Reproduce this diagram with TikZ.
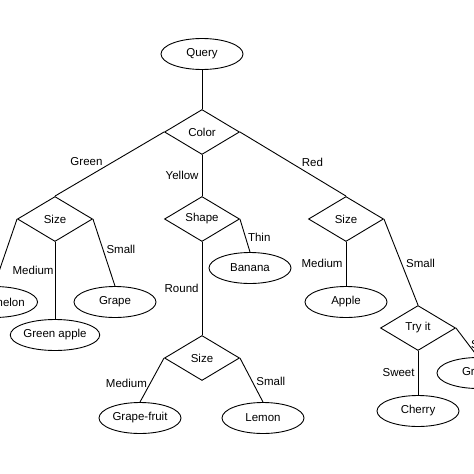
\documentclass[tikz,border=0pt]{standalone}
\usepackage{fontspec}
\setmainfont{Liberation Sans}
\usetikzlibrary{shapes.geometric}

\begin{document}
\begin{tikzpicture}[x=1pt, y=-1pt, line width=0.9pt,
    every node/.style={font=\fontsize{11.5}{13}\selectfont},
    leaf/.style={draw, ellipse, minimum width=82pt, minimum height=31pt, inner sep=0pt},
    test/.style={draw, diamond, minimum width=75pt, minimum height=45pt, inner sep=0pt},
    lbl/.style={inner sep=1pt}]
\useasboundingbox (0,0) rectangle (474,474);
\coordinate (pQuery) at (202, 54);
\coordinate (pColor) at (202, 132);
\coordinate (pSizeG) at (55, 219);
\coordinate (pShape) at (202, 219);
\coordinate (pSizeR) at (346, 219);
\coordinate (pSizeY) at (202, 358);
\coordinate (pTry) at (418, 328);
	\node[leaf] (query) at (pQuery) {Query};
	\node[test] (color) at (pColor) {Color};
	\node[test] (sizeG) at (pSizeG) {Size};
	\node[test] (shape) at (pShape) {Shape};
	\node[test] (sizeR) at (pSizeR) {Size};
	\node[test] (sizeY) at (pSizeY) {Size};
	\node[test] (try) at (pTry) {Try it};
	\node[leaf] (watermelon) at (-6, 302) {Watermelon};
	\node[leaf] (greenapple) at (55, 335) {Green apple};
	\node[leaf] (grapeG) at (115, 302) {Grape};
	\node[leaf] (banana) at (250, 268) {Banana};
	\node[leaf] (grapefruit) at (140, 418) {Grape-fruit};
	\node[leaf] (lemon) at (263, 418) {Lemon};
	\node[leaf] (apple) at (346, 302) {Apple};
	\node[leaf] (cherry) at (418, 411) {Cherry};
	\node[leaf] (grapeR) at (478, 373) {Grape};
	\draw (query) -- (color);
	\draw (color.west) -- (sizeG.north) node[lbl, pos=0.46, anchor=east, xshift=-10pt]{Green};
	\draw (color.south) -- (shape.north) node[lbl, pos=0.5, anchor=east, xshift=-2pt]{Yellow};
	\draw (color.east) -- (sizeR.north) node[lbl, pos=0.57, anchor=south west]{Red};
	\draw (sizeG.west) -- (watermelon.north);
	\draw (sizeG.south) -- (greenapple.north) node[lbl, pos=0.37, anchor=east]{Medium};
	\draw (sizeG.east) -- (grapeG.north) node[lbl, pos=0.46, anchor=west, xshift=2pt]{Small};
	\draw (shape.east) -- (banana.north) node[lbl, pos=0.56, anchor=west, xshift=1pt]{Thin};
	\draw (shape.south) -- (sizeY.north) node[lbl, pos=0.5, anchor=east, xshift=-2pt]{Round};
	\draw (sizeY.west) -- (grapefruit.north) node[lbl, pos=0.57, anchor=east, xshift=-2pt]{Medium};
	\draw (sizeY.east) -- (lemon.north) node[lbl, pos=0.52, anchor=west, xshift=3pt]{Small};
	\draw (sizeR.south) -- (apple.north) node[lbl, pos=0.49, anchor=east, xshift=-2pt]{Medium};
	\draw (sizeR.east) -- (try.north) node[lbl, pos=0.52, anchor=west, xshift=3pt]{Small};
	\draw (try.south) -- (cherry.north) node[lbl, pos=0.49, anchor=east, xshift=-2pt]{Sweet};
	\draw (try.east) -- (grapeR.north) node[lbl, pos=0.58, anchor=west, xshift=1pt]{Sour};
\end{tikzpicture}
\end{document}
